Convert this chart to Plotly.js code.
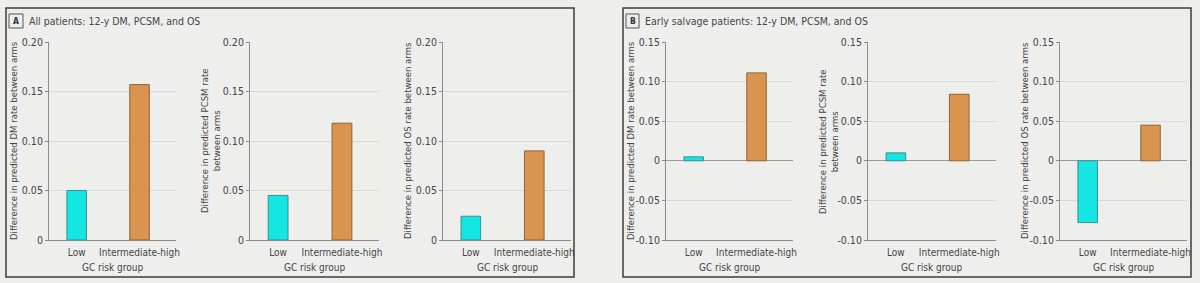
<!DOCTYPE html>
<html>
<head>
<meta charset="utf-8">
<script src="https://cdn.plot.ly/plotly-3.0.1.min.js"></script>
<style>
  html, body { margin: 0; padding: 0; background: #eeeeec; }
  #chart { width: 1200px; height: 283px; }
</style>
</head>
<body>
<div id="chart"></div>
<script>
// GC risk groups on every x axis
const categories = ['Low', 'Intermediate-high'];

// Difference in predicted 12-y rates between arms — all patients
const allDM   = [0.050, 0.157];
const allPCSM = [0.045, 0.118];
const allOS   = [0.024, 0.090];

// Difference in predicted 12-y rates between arms — early salvage patients
const earlyDM   = [0.005, 0.111];
const earlyPCSM = [0.010, 0.084];
const earlyOS   = [-0.078, 0.045];

// Y tick labels for each panel
const allTickVals   = [0, 0.05, 0.10, 0.15, 0.20];
const allTickText   = ['0', '0.05', '0.10', '0.15', '0.20'];
const earlyTickVals = [-0.10, -0.05, 0, 0.05, 0.10, 0.15];
const earlyTickText = ['-0.10', '-0.05', '0', '0.05', '0.10', '0.15'];

// Axis titles
const xTitle = 'GC risk group';
const yTitles = [
  'Difference in predicted DM rate between arms',
  'Difference in predicted PCSM rate<br>between arms',
  'Difference in predicted OS rate between arms',
  'Difference in predicted DM rate between arms',
  'Difference in predicted PCSM rate<br>between arms',
  'Difference in predicted OS rate between arms'
];

const panelTitles = ['All patients: 12-y DM, PCSM, and OS', 'Early salvage patients: 12-y DM, PCSM, and OS'];
const panelLetters = ['A', 'B'];

const W = 1200, H = 283;
const FONT = '"DejaVu Sans Condensed", "DejaVu Sans", sans-serif';
const TEXT = '#454545';
const AXIS = '#8c8c8a';
const fillColors = ['#14e6e4', '#d9954f'];
const edgeColors = ['#3c8f8c', '#8e6438'];

// pixel boxes of the six plot areas
const plotLeft  = [49, 250, 443, 666, 868, 1060];
const plotRight = [176, 379, 571, 793, 996, 1187];
const plotTop = 42, plotBottom = 240;

const series = [allDM, allPCSM, allOS, earlyDM, earlyPCSM, earlyOS];
const px = v => v / W;
const py = v => 1 - v / H;

const data = series.map((vals, i) => ({
  type: 'bar',
  x: categories,
  y: vals,
  xaxis: 'x' + (i + 1),
  yaxis: 'y' + (i + 1),
  width: 0.31,
  marker: { color: fillColors, line: { color: edgeColors, width: 1 } },
  hoverinfo: 'x+y',
  showlegend: false
}));

const layout = {
  width: W, height: H,
  margin: { l: 0, r: 0, t: 0, b: 0 },
  paper_bgcolor: '#eeeeec',
  plot_bgcolor: 'rgba(0,0,0,0)',
  font: { family: FONT, size: 10, color: TEXT },
  showlegend: false,
  shapes: [],
  annotations: []
};

for (let i = 0; i < 6; i++) {
  const early = i >= 3;
  const sfx = i === 0 ? '' : String(i + 1);
  layout['xaxis' + sfx] = {
    domain: [px(plotLeft[i]), px(plotRight[i])],
    anchor: 'y' + (i + 1),
    type: 'category',
    range: [-0.44, 1.58],
    showgrid: false,
    zeroline: false,
    showline: true,
    linecolor: AXIS,
    linewidth: 1,
    ticks: '',
    ticklabelstandoff: 3,
    tickfont: { family: FONT, size: 10, color: TEXT },
    fixedrange: true
  };
  layout['yaxis' + sfx] = {
    domain: [py(plotBottom), py(plotTop)],
    anchor: 'x' + (i + 1),
    range: early ? [-0.10, 0.15] : [0, 0.20],
    tickvals: early ? earlyTickVals : allTickVals,
    ticktext: early ? earlyTickText : allTickText,
    showgrid: true,
    gridcolor: '#d8d8d6',
    gridwidth: 1,
    zeroline: true,
    zerolinecolor: '#9a9a98',
    zerolinewidth: 1,
    showline: true,
    linecolor: AXIS,
    linewidth: 1,
    ticks: 'outside',
    ticklen: 3,
    tickcolor: AXIS,
    tickfont: { family: FONT, size: 10.5, color: TEXT },
    fixedrange: true
  };

  // x-axis title
  layout.annotations.push({
    xref: 'paper', yref: 'paper',
    x: px((plotLeft[i] + plotRight[i]) / 2), y: py(267),
    xanchor: 'center', yanchor: 'middle',
    text: xTitle, showarrow: false,
    font: { family: FONT, size: 10, color: TEXT }
  });
  // y-axis title
  const twoLine = yTitles[i].indexOf('<br>') >= 0;
  layout.annotations.push({
    xref: 'paper', yref: 'paper',
    x: px(plotLeft[i] - (twoLine ? 40 : 36)), y: py((plotTop + plotBottom) / 2),
    xanchor: 'center', yanchor: 'middle',
    textangle: -90,
    text: yTitles[i], showarrow: false,
    font: { family: FONT, size: 9.5, color: TEXT }
  });
}

// panel frames, letter boxes and headings
const frames = [[6, 574], [623, 1191]];
const letterBox = [[9, 23], [626, 639]];
frames.forEach((f, k) => {
  layout.shapes.push({
    type: 'rect', xref: 'paper', yref: 'paper',
    x0: px(f[0]), x1: px(f[1]), y0: py(277), y1: py(8),
    line: { color: '#3c3c3c', width: 1.5 }, fillcolor: 'rgba(0,0,0,0)'
  });
  layout.shapes.push({
    type: 'rect', xref: 'paper', yref: 'paper',
    x0: px(letterBox[k][0]), x1: px(letterBox[k][1]), y0: py(28), y1: py(14),
    line: { color: '#555555', width: 1 }, fillcolor: 'rgba(0,0,0,0)'
  });
  layout.annotations.push({
    xref: 'paper', yref: 'paper',
    x: px((letterBox[k][0] + letterBox[k][1]) / 2), y: py(21),
    xanchor: 'center', yanchor: 'middle',
    text: '<b>' + panelLetters[k] + '</b>', showarrow: false,
    font: { family: FONT, size: 8.5, color: '#333333' }
  });
  layout.annotations.push({
    xref: 'paper', yref: 'paper',
    x: px(letterBox[k][1] + 4), y: py(21),
    xanchor: 'left', yanchor: 'middle',
    text: panelTitles[k], showarrow: false,
    font: { family: FONT, size: 10.5, color: TEXT }
  });
});

Plotly.newPlot('chart', data, layout, { displayModeBar: false, staticPlot: true });
</script>
</body>
</html>
